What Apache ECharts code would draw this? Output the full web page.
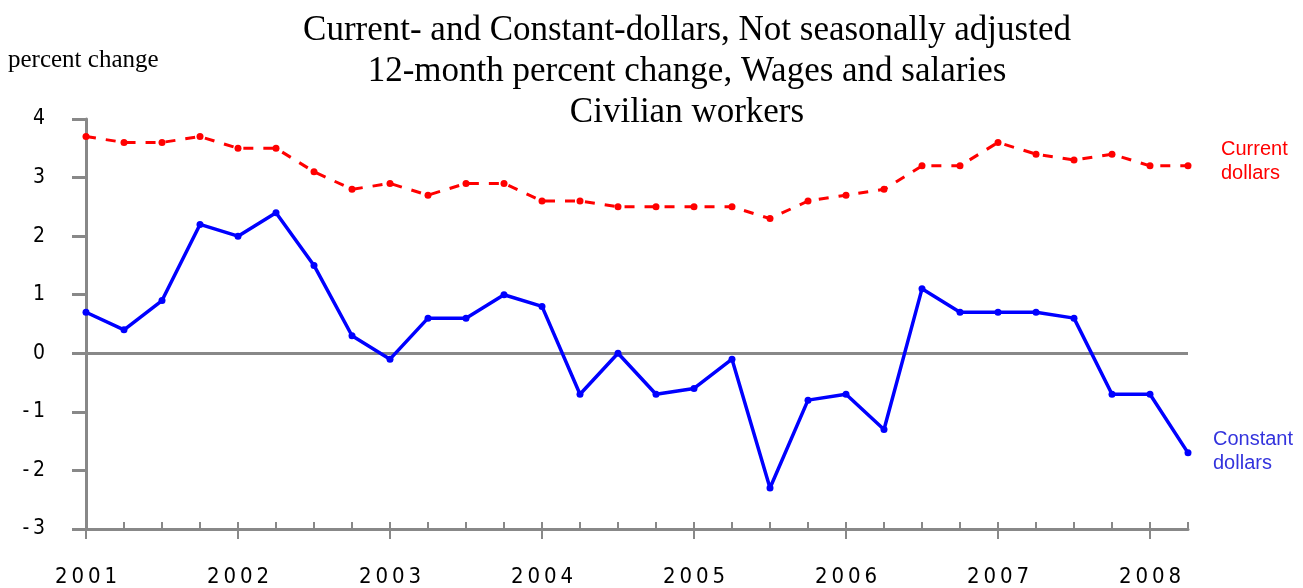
<!DOCTYPE html>
<html>
<head>
<meta charset="utf-8">
<script src="https://cdn.jsdelivr.net/npm/echarts@6/dist/echarts.min.js"></script>
<style>
  html, body { margin: 0; padding: 0; background: #fff; }
  #chart { width: 1303px; height: 588px; }
</style>
</head>
<body>
<div id="chart"></div>
<script>
// quarterly, 2001 Q1 .. 2008 Q2
var quarters = [];
for (var y = 2001; y <= 2008; y++) {
  for (var q = 1; q <= 4; q++) {
    if (y === 2008 && q > 2) break;
    quarters.push(y + ' Q' + q);
  }
}

var currentDollars = [
  3.7, 3.6, 3.6, 3.7, 3.5, 3.5, 3.1, 2.8, 2.9, 2.7,
  2.9, 2.9, 2.6, 2.6, 2.5, 2.5, 2.5, 2.5, 2.3, 2.6,
  2.7, 2.8, 3.2, 3.2, 3.6, 3.4, 3.3, 3.4, 3.2, 3.2
];
var constantDollars = [
  0.7, 0.4, 0.9, 2.2, 2.0, 2.4, 1.5, 0.3, -0.1, 0.6,
  0.6, 1.0, 0.8, -0.7, 0.0, -0.7, -0.6, -0.1, -2.3, -0.8,
  -0.7, -1.3, 1.1, 0.7, 0.7, 0.7, 0.6, -0.7, -0.7, -1.7
];

var titleLines = [
  'Current- and Constant-dollars, Not seasonally adjusted',
  '12-month percent change, Wages and salaries',
  'Civilian workers'
];

var axisGray = '#888888';
var thin = '\u2009';
var narrow = 'Liberation Sans Narrow, DejaVu Sans Condensed, sans-serif';

var chart = echarts.init(document.getElementById('chart'));

chart.setOption({
  animation: false,
  backgroundColor: '#ffffff',
  title: {
    text: titleLines.join('\n'),
    left: 682,
    top: 5,
    textAlign: 'center',
    textStyle: {
      fontFamily: 'Liberation Serif',
      fontWeight: 'normal',
      fontSize: 35,
      lineHeight: 41,
      color: '#000'
    }
  },
  grid: {
    left: 86,
    right: 115,
    top: 119,
    bottom: 59,
    containLabel: false,
    outerBoundsMode: 'none'
  },
  xAxis: [{
    type: 'category',
    data: quarters,
    boundaryGap: false,
    axisLine: { onZero: false, lineStyle: { color: axisGray, width: 3 } },
    axisTick: { inside: true, interval: 0, length: 7, lineStyle: { color: axisGray, width: 2 } },
    axisLabel: {
      interval: function (i) { return i % 4 === 0; },
      margin: 37,
      fontFamily: narrow,
      fontSize: 22,
      color: '#000',
      formatter: function (v) { return v.slice(0, 4).split('').join(thin); }
    },
    splitLine: { show: false }
  }, {
    type: 'category',
    data: quarters,
    boundaryGap: false,
    position: 'bottom',
    axisLine: { show: false, onZero: false },
    axisTick: {
      interval: function (i) { return i % 4 === 0; },
      length: 10,
      lineStyle: { color: axisGray, width: 2 }
    },
    axisLabel: { show: false },
    splitLine: { show: false }
  }],
  yAxis: {
    type: 'value',
    min: -3,
    max: 4,
    interval: 1,
    axisLine: { show: true, lineStyle: { color: axisGray, width: 3 } },
    axisTick: { show: true, length: 14, lineStyle: { color: axisGray, width: 3 } },
    axisLabel: {
      margin: 41,
      align: 'right',
      fontFamily: narrow,
      fontSize: 21,
      color: '#000',
      formatter: function (v) { return v < 0 ? '-' + thin + Math.abs(v) : String(v); }
    },
    splitLine: { show: false }
  },
  graphic: [
    { type: 'text', left: 8, top: 48, style: { text: 'percent change', fontFamily: 'Liberation Serif', fontSize: 25, fill: '#000' } },
    { type: 'text', left: 1221, top: 137, style: { text: 'Current\ndollars', fontFamily: 'Liberation Sans', fontSize: 20, lineHeight: 24, fill: '#ff0000', align: 'center', x: 33 } },
    { type: 'text', left: 1213, top: 427, style: { text: 'Constant\ndollars', fontFamily: 'Liberation Sans', fontSize: 20, lineHeight: 24, fill: '#3333dd', align: 'center', x: 40 } }
  ],
  series: [{
    name: 'Current dollars',
    type: 'line',
    data: currentDollars,
    symbol: 'circle',
    symbolSize: 7,
    itemStyle: { color: '#ff0000' },
    lineStyle: { color: '#ff0000', width: 3, type: [10, 10] },
    z: 3
  }, {
    name: 'Constant dollars',
    type: 'line',
    data: constantDollars,
    symbol: 'circle',
    symbolSize: 7,
    itemStyle: { color: '#0000ff' },
    lineStyle: { color: '#0000ff', width: 3.5 },
    z: 3,
    markLine: {
      silent: true,
      symbol: 'none',
      label: { show: false },
      lineStyle: { color: axisGray, width: 3, type: 'solid' },
      data: [{ yAxis: 0 }],
      z: 1
    }
  }]
});
</script>
</body>
</html>
